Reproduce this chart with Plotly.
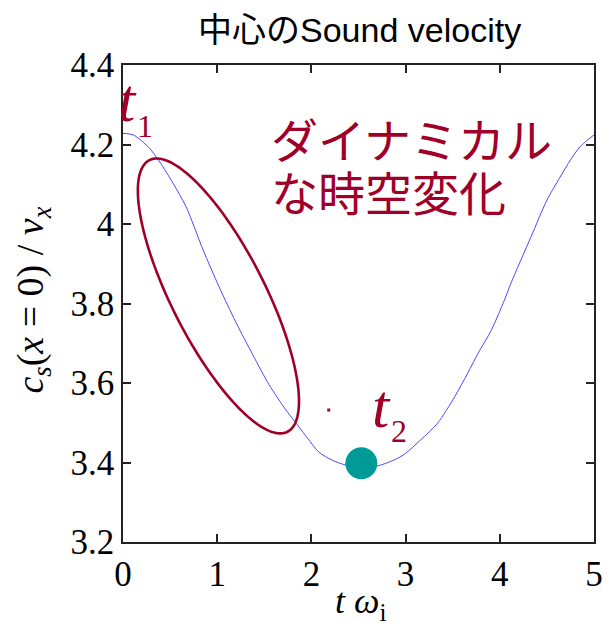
import numpy as np
import plotly.graph_objects as go

# ---------------- data ----------------
t_omega = [0.00, 0.11, 0.28, 0.39, 0.53, 0.67, 0.85, 1.02, 1.20, 1.38, 1.55, 1.73,
           1.87, 1.96, 2.08, 2.22, 2.36, 2.53, 2.71, 2.92, 3.00, 3.16, 3.34, 3.52,
           3.66, 3.77, 3.91, 4.05, 4.12, 4.33, 4.50, 4.64, 4.75, 4.85, 4.93, 5.00]
cs_center = [4.228, 4.224, 4.191, 4.156, 4.103, 4.043, 3.935, 3.842, 3.752, 3.670, 3.596, 3.532,
             3.489, 3.461, 3.426, 3.406, 3.394, 3.390, 3.392, 3.411, 3.423, 3.457, 3.499, 3.565,
             3.625, 3.675, 3.733, 3.809, 3.852, 3.967, 4.060, 4.118, 4.161, 4.194, 4.211, 4.224]

t2_point_t = [2.53]
t2_point_v = [3.398]

stray_dots_t = [-0.158, 2.184]
stray_dots_v = [4.103, 3.532]

x_tick_vals = [0, 1, 2, 3, 4, 5]
x_tick_text = ["0", "1", "2", "3", "4", "5"]
y_tick_vals = [3.2, 3.4, 3.6, 3.8, 4.0, 4.2, 4.4]
y_tick_text = ["3.2", "3.4", "3.6", "3.8", "4", "4.2", "4.4"]

# ellipse annotation (data units): centre and two conjugate semi-axis vectors
ell_center = (1.013, 3.819)
ell_u = (0.733, -0.3416)
ell_w = (-0.441, -0.0538)

# ---------------- styling ----------------
RED = "#A00028"
SERIF = "Liberation Serif"
W, H = 615, 627
ML, MR, MT, MB = 123, 18, 65, 85
PW, PH = W - ML - MR, H - MT - MB


def px(xp):
    return (xp - ML) / PW


def py(yp):
    return (H - MB - yp) / PH


fig = go.Figure()
fig.add_trace(go.Scatter(x=t_omega, y=cs_center, mode="lines",
                         line=dict(color="#4a4aff", width=1, shape="spline", smoothing=0.8),
                         hoverinfo="skip"))
fig.add_trace(go.Scatter(x=t2_point_t, y=t2_point_v, mode="markers",
                         marker=dict(size=32, color="#009a97"), hoverinfo="skip"))
fig.add_trace(go.Scatter(x=stray_dots_t, y=stray_dots_v, mode="markers", cliponaxis=False,
                         marker=dict(size=3, color=RED, symbol="square"), hoverinfo="skip"))

phi = np.linspace(0, 2 * np.pi, 181)
ex = ell_center[0] + ell_u[0] * np.cos(phi) + ell_w[0] * np.sin(phi)
ey = ell_center[1] + ell_u[1] * np.cos(phi) + ell_w[1] * np.sin(phi)
path = "M " + " L ".join(f"{a:.4f},{b:.4f}" for a, b in zip(ex, ey)) + " Z"
fig.add_shape(type="path", path=path, xref="x", yref="y",
              line=dict(color=RED, width=2.6), fillcolor="rgba(0,0,0,0)")

axis_common = dict(showline=True, linecolor="#222222", linewidth=1.5, mirror="allticks",
                   ticks="inside", ticklen=8, tickwidth=1.5, tickcolor="#222222",
                   showgrid=False, zeroline=False,
                   tickfont=dict(family=SERIF, size=35, color="black"))
fig.update_xaxes(range=[0, 5], tickvals=x_tick_vals, ticktext=x_tick_text, **axis_common)
fig.update_yaxes(range=[3.2, 4.4], tickvals=y_tick_vals, ticktext=y_tick_text, **axis_common)

ann = []
# title
ann.append(dict(text="中心のSound velocity", xref="paper", yref="paper", x=px(361.5), y=py(30),
                xanchor="center", yanchor="middle", showarrow=False,
                font=dict(family="Liberation Sans, Noto Sans CJK JP", size=34, color="black")))
# axis titles
ann.append(dict(text="<i>c</i><sub><i>s</i></sub>(<i>x</i> = 0) / <i>v</i><sub><i>x</i></sub>",
                xref="paper", yref="paper", x=px(32), y=py(300), textangle=-90,
                xanchor="center", yanchor="middle", showarrow=False,
                font=dict(family=SERIF, size=38, color="black")))
ann.append(dict(text="<i>t ω</i><sub>i</sub>", xref="paper", yref="paper", x=px(362), y=py(603),
                xanchor="center", yanchor="middle", showarrow=False,
                font=dict(family=SERIF, size=36, color="black")))
# t1, t2 labels
for main_x, main_y, sub_x, sub_y, sub in [(128, 100, 145, 126, "1"), (383, 406, 401, 431, "2")]:
    ann.append(dict(text="<i>t</i>", xref="paper", yref="paper", x=px(main_x), y=py(main_y),
                    xanchor="center", yanchor="middle", showarrow=False,
                    font=dict(family=SERIF, size=62, color=RED)))
    ann.append(dict(text=sub, xref="paper", yref="paper", x=px(sub_x), y=py(sub_y),
                    xanchor="center", yanchor="middle", showarrow=False,
                    font=dict(family=SERIF, size=32, color=RED)))
# Japanese caption
for line, yy in [("ダイナミカル", 137), ("な時空変化", 190)]:
    ann.append(dict(text=line, xref="paper", yref="paper", x=px(270), y=py(yy),
                    xanchor="left", yanchor="middle", showarrow=False,
                    font=dict(family="Noto Sans CJK JP", size=47, color=RED)))

fig.update_layout(width=W, height=H, margin=dict(l=ML, r=MR, t=MT, b=MB),
                  paper_bgcolor="white", plot_bgcolor="white", showlegend=False,
                  annotations=ann)

fig.write_html("out.html")
